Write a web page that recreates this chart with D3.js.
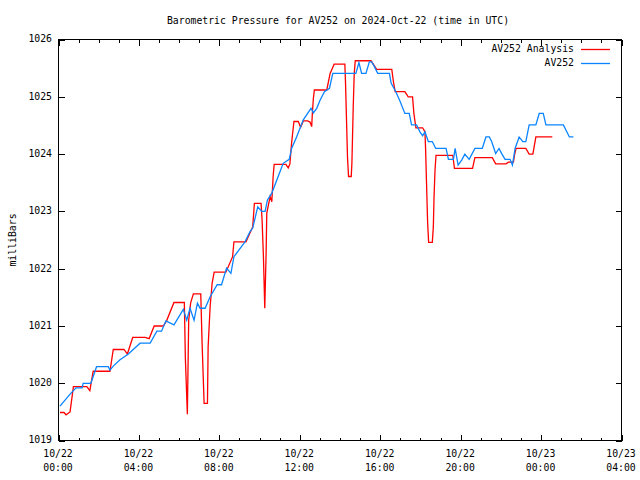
<!DOCTYPE html>
<html>
<head>
<meta charset="utf-8">
<script src="https://cdn.jsdelivr.net/npm/d3@7"></script>
<style>
  body { margin: 0; background: #fff; }
  svg { display: block; }
  text { font-family: "DejaVu Sans Mono", "Liberation Mono", monospace; font-size: 9.8px; fill: #000; }
</style>
</head>
<body>
<svg id="chart" width="640" height="480"></svg>
<script>
// ---- data (minutes after 2024-10-22 00:00 UTC, pressure in mb) ----
const chartTitle = "Barometric Pressure for AV252 on 2024-Oct-22 (time in UTC)";
const yLabel = "milliBars";
const seriesNames = ["AV252 Analysis", "AV252"];

const analysisMinutes = [6,18,24,36,46,86,95,105,155,165,197,207,223,260,272,287,314,324,346,377,380,386,390,396,404,426,430,436,446,448,454,460,466,501,521,525,561,581,586,606,609,613,617,621,623,633,638,642,645,680,687,692,697,704,717,724,732,745,752,757,759,762,765,802,812,824,856,858,864,867,875,877,881,884,887,934,951,996,1001,1006,1035,1045,1058,1062,1068,1088,1095,1097,1100,1103,1106,1117,1120,1122,1125,1128,1178,1183,1237,1244,1296,1306,1337,1344,1359,1362,1367,1396,1406,1417,1420,1426,1475];
const analysisPressure = [1019.48,1019.48,1019.44,1019.49,1019.93,1019.93,1019.86,1020.20,1020.20,1020.58,1020.58,1020.50,1020.79,1020.79,1020.77,1020.99,1020.99,1021.08,1021.40,1021.40,1020.44,1019.45,1021.09,1021.40,1021.55,1021.55,1020.69,1019.64,1019.64,1020.63,1021.33,1021.74,1021.93,1021.93,1022.20,1022.46,1022.46,1022.72,1023.13,1023.13,1022.84,1022.20,1021.30,1022.26,1022.96,1023.25,1023.16,1023.60,1023.81,1023.81,1023.75,1023.82,1024.18,1024.56,1024.56,1024.46,1024.57,1024.57,1024.55,1024.47,1024.70,1024.96,1025.11,1025.11,1025.40,1025.56,1025.56,1025.23,1023.92,1023.60,1023.60,1023.83,1024.82,1025.40,1025.62,1025.62,1025.47,1025.47,1025.25,1025.08,1025.08,1024.99,1024.99,1024.70,1024.45,1024.45,1024.38,1024.06,1023.42,1022.79,1022.45,1022.45,1022.72,1023.22,1023.71,1023.97,1023.97,1023.74,1023.74,1023.93,1023.93,1023.82,1023.82,1023.85,1023.85,1023.97,1024.09,1024.09,1023.99,1023.99,1024.09,1024.29,1024.29];

const stationMinutes = [6,36,54,72,75,98,115,150,155,165,185,210,245,275,295,309,322,346,374,384,394,406,416,424,439,454,475,488,503,516,525,558,573,581,596,608,618,625,638,657,672,690,697,712,732,755,762,772,782,795,810,820,889,898,906,919,929,936,943,954,989,994,1008,1021,1035,1048,1055,1070,1080,1088,1095,1105,1117,1127,1158,1165,1180,1185,1194,1205,1214,1227,1244,1266,1277,1287,1294,1306,1316,1324,1334,1349,1356,1364,1376,1387,1396,1406,1426,1436,1448,1456,1508,1526,1538];
const stationPressure = [1019.59,1019.80,1019.91,1019.91,1019.99,1019.99,1020.28,1020.28,1020.22,1020.29,1020.40,1020.50,1020.69,1020.69,1020.90,1020.90,1021.08,1021.01,1021.28,1021.09,1021.30,1021.09,1021.39,1021.30,1021.30,1021.50,1021.71,1021.71,1022.00,1021.91,1022.20,1022.46,1022.64,1022.70,1023.07,1022.99,1022.99,1023.19,1023.31,1023.60,1023.83,1023.90,1024.09,1024.29,1024.59,1024.79,1024.71,1024.79,1024.93,1025.08,1025.14,1025.40,1025.40,1025.59,1025.40,1025.40,1025.60,1025.60,1025.53,1025.40,1025.40,1025.23,1025.08,1024.91,1024.70,1024.70,1024.50,1024.50,1024.38,1024.31,1024.38,1024.21,1024.21,1024.09,1024.09,1023.90,1023.90,1024.09,1023.80,1023.89,1023.99,1023.90,1024.09,1024.09,1024.29,1024.29,1024.21,1024.00,1024.09,1024.00,1023.90,1023.90,1023.80,1024.09,1024.29,1024.21,1024.21,1024.50,1024.50,1024.70,1024.70,1024.50,1024.50,1024.29,1024.29];

const yTicks = [1019,1020,1021,1022,1023,1024,1025,1026];
const xTickHours = [0,4,8,12,16,20,24,28];
const xTickDates = ["10/22","10/22","10/22","10/22","10/22","10/22","10/23","10/23"];
const xTickTimes = ["00:00","04:00","08:00","12:00","16:00","20:00","00:00","04:00"];

// ---- drawing ----
const svg = d3.select("#chart");
const L = 58, R = 621, T = 39, B = 440;
const start = Date.UTC(2024, 9, 22, 0, 0);
const toDate = m => new Date(start + m * 60000);

const x = d3.scaleUtc().domain([toDate(0), toDate(28 * 60)]).range([L, R]);
const y = d3.scaleLinear().domain([1019, 1026]).range([B, T]);

// frame
svg.append("rect").attr("x", L + 0.5).attr("y", T + 0.5)
  .attr("width", R - L).attr("height", B - T)
  .attr("fill", "none").attr("stroke", "#000").attr("stroke-width", 1)
  .attr("shape-rendering", "crispEdges");

const majorX = xTickHours.map(h => toDate(h * 60));
const minorX = d3.range(0, 29).filter(h => h % 4 !== 0).map(h => toDate(h * 60));

function styleAxis(g) {
  g.select(".domain").remove();
  g.selectAll("line").attr("stroke", "#000").attr("shape-rendering", "crispEdges");
  g.selectAll("text").remove();
}
// bottom & top ticks (inward)
svg.append("g").attr("transform", `translate(0.5,${B + 0.5})`)
  .call(d3.axisBottom(x).tickValues(majorX).tickSize(-6)).call(styleAxis);
svg.append("g").attr("transform", `translate(0.5,${B + 0.5})`)
  .call(d3.axisBottom(x).tickValues(minorX).tickSize(-3)).call(styleAxis);
svg.append("g").attr("transform", `translate(0.5,${T + 0.5})`)
  .call(d3.axisTop(x).tickValues(majorX).tickSize(-6)).call(styleAxis);
svg.append("g").attr("transform", `translate(0.5,${T + 0.5})`)
  .call(d3.axisTop(x).tickValues(minorX).tickSize(-3)).call(styleAxis);
// left & right ticks
svg.append("g").attr("transform", `translate(${L + 0.5},0.5)`)
  .call(d3.axisLeft(y).tickValues(yTicks).tickSize(-6)).call(styleAxis);
svg.append("g").attr("transform", `translate(${R + 0.5},0.5)`)
  .call(d3.axisRight(y).tickValues(yTicks).tickSize(-6)).call(styleAxis);

// y tick labels
svg.append("g").selectAll("text").data(yTicks).join("text")
  .attr("x", 52).attr("y", d => y(d)).attr("dy", "0.35em")
  .attr("text-anchor", "end").text(d => d);

// x tick labels
const xl = svg.append("g").selectAll("g").data(xTickHours).join("g");
xl.append("text").attr("x", (d) => x(toDate(d * 60))).attr("y", 457)
  .attr("text-anchor", "middle").text((d, i) => xTickDates[i]);
xl.append("text").attr("x", (d) => x(toDate(d * 60))).attr("y", 471)
  .attr("text-anchor", "middle").text((d, i) => xTickTimes[i]);

// title & axis label
svg.append("text").attr("x", 338).attr("y", 24).attr("text-anchor", "middle").text(chartTitle);
svg.append("text").attr("transform", "translate(16,240) rotate(-90)")
  .attr("text-anchor", "middle").text(yLabel);

// lines
const line = d3.line().x(d => x(toDate(d[0]))).y(d => y(d[1]));
const analysis = analysisMinutes.map((m, i) => [m, analysisPressure[i]]);
const station = stationMinutes.map((m, i) => [m, stationPressure[i]]);
const colors = ["#ff0000", "#0a84ff"];

svg.append("path").datum(analysis).attr("d", line)
  .attr("fill", "none").attr("stroke", colors[0]).attr("stroke-width", 1.3);
svg.append("path").datum(station).attr("d", line)
  .attr("fill", "none").attr("stroke", colors[1]).attr("stroke-width", 1.3);

// legend
seriesNames.forEach((name, i) => {
  const ly = 49 + i * 14;
  svg.append("text").attr("x", 574).attr("y", ly).attr("dy", "0.35em")
    .attr("text-anchor", "end").text(name);
  svg.append("line").attr("x1", 581).attr("x2", 610).attr("y1", ly + 0.5).attr("y2", ly + 0.5)
    .attr("stroke", colors[i]).attr("stroke-width", 1.3);
});
</script>
</body>
</html>
